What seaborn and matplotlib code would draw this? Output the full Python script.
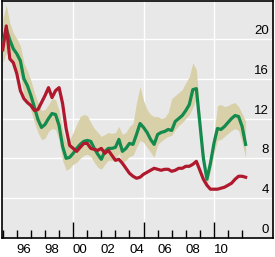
import matplotlib
matplotlib.use('Agg')
import matplotlib.pyplot as plt
import matplotlib.transforms as mtransforms
import numpy as np
import pandas as pd
import seaborn as sns

# quarterly data, 1995Q1 .. 2012Q2
quarters = np.arange(1995.0, 2012.26, 0.25)

red = [18.9, 21.3, 18.0, 17.6,
       16.5, 14.8, 14.0, 13.6,
       13.3, 12.8, 12.9, 13.6,
       14.3, 15.1, 14.1, 14.8,
       15.1, 13.5, 11.0, 9.3,
       9.0, 8.7, 9.1, 9.5,
       9.5, 9.0, 8.9, 8.8,
       9.0, 8.5, 8.8, 8.3,
       7.8, 7.9, 7.5, 7.0,
       6.5, 6.2, 6.0, 6.1,
       6.4, 6.6, 6.8, 7.0,
       6.9, 6.8, 6.9, 6.9,
       6.7, 6.8, 7.0, 7.0,
       7.2, 7.2, 7.4, 7.7,
       6.8, 5.9, 5.3, 4.9,
       4.9, 4.9, 5.0, 5.1,
       5.3, 5.5, 5.9, 6.2,
       6.2, 6.1]

green = [19.5, 21.0, 19.9, 19.0,
         18.5, 17.8, 16.0, 15.3,
         14.3, 13.1, 11.9, 11.1,
         11.4, 12.0, 12.5, 12.4,
         11.3, 9.2, 8.0, 8.1,
         8.5, 9.0, 9.4, 9.7,
         9.8, 9.7, 9.0, 8.4,
         7.9, 8.7, 9.0, 9.0,
         9.1, 9.9, 8.7, 9.0,
         9.5, 9.4, 10.4, 11.5,
         11.1, 10.6, 9.9, 9.4,
         10.4, 10.6, 10.7, 10.9,
         10.8, 11.7, 12.0, 12.3,
         12.8, 13.4, 14.9, 15.0,
         11.5, 8.0, 5.9, 7.5,
         9.5, 11.0, 10.9, 11.2,
         11.6, 12.0, 12.3, 12.2,
         11.2, 9.4]

band_hi = [22.0, 23.4, 21.6, 20.6,
           20.0, 19.3, 17.6, 16.8,
           15.8, 14.6, 13.6, 12.8,
           12.9, 13.4, 14.0, 13.9,
           12.8, 10.8, 9.6, 9.9,
           10.6, 11.4, 12.2, 12.4,
           12.3, 11.6, 11.0, 10.6,
           10.2, 10.4, 10.6, 10.5,
           10.6, 11.2, 10.4, 10.6,
           11.2, 11.5, 13.6, 15.2,
           13.8, 12.9, 12.4, 12.2,
           12.2, 12.0, 12.1, 12.6,
           14.0, 14.3, 14.6, 14.9,
           15.6, 16.2, 17.6, 16.9,
           12.4, 8.8, 6.5, 8.3,
           10.5, 13.3, 13.4, 13.2,
           13.3, 13.5, 13.6, 13.2,
           12.5, 11.7]

band_lo = [17.6, 18.6, 18.2, 17.4,
           16.8, 16.2, 14.4, 13.8,
           12.8, 11.6, 10.6, 9.9,
           10.0, 10.7, 11.0, 10.9,
           9.8, 7.8, 6.8, 7.0,
           7.4, 7.6, 8.0, 8.3,
           8.4, 8.2, 7.6, 7.1,
           6.9, 7.4, 7.8, 7.8,
           7.9, 8.5, 7.6, 7.8,
           8.2, 8.3, 9.1, 9.8,
           9.6, 9.1, 8.6, 8.1,
           9.4, 9.7, 10.0, 10.2,
           10.3, 10.9, 11.3, 11.6,
           12.0, 12.4, 13.1, 14.0,
           10.5, 7.2, 5.3, 6.7,
           8.5, 9.8, 9.9, 10.2,
           10.5, 10.8, 11.0, 10.8,
           9.6, 8.1]

year_labels = ['96', '98', '00', '02', '04', '06', '08', '10']
label_years = [1996, 1998, 2000, 2002, 2004, 2006, 2008, 2010]
y_ticks = [0, 4, 8, 12, 16, 20]

df = pd.DataFrame({'t': quarters, 'red': red, 'green': green,
                   'lo': band_lo, 'hi': band_hi})

plt.rcParams['font.family'] = ['Liberation Sans', 'DejaVu Sans']

fig = plt.figure(figsize=(2.75, 2.57), dpi=100)
ax = fig.add_axes([0.008, 0.074, 0.985, 0.922])
ax.set_facecolor('#e8e8e8')

ax.fill_between(df['t'], df['lo'], df['hi'], color='#d8d0a8', lw=0, zorder=2)
sns.lineplot(data=df, x='t', y='green', color='#138a4e', lw=2.3, ax=ax, zorder=3)
sns.lineplot(data=df, x='t', y='red', color='#b0182d', lw=2.3, ax=ax, zorder=4)

ax.set_xlim(1994.96, 2014.2)
ax.set_ylim(0, 23.8)

ax.set_yticks(y_ticks)
ax.tick_params(axis='y', length=0, labelleft=False)
ax.set_xticks([2000, 2005, 2010])
ax.set_xticks(range(1995, 2013), minor=True)
ax.tick_params(axis='x', which='major', direction='in', length=11.5, width=1,
               labelbottom=False)
ax.tick_params(axis='x', which='minor', direction='in', length=6, width=1)
ax.grid(True, which='major', color='white', lw=1, zorder=1)
ax.set_axisbelow(True)
ax.set_xlabel('')
ax.set_ylabel('')

for s in ax.spines.values():
    s.set_color('black')
    s.set_linewidth(1.2)

# y labels sit inside the plot, just above their gridlines
off = mtransforms.offset_copy(ax.get_yaxis_transform(), fig=fig, x=-4, y=2, units='dots')
for v in y_ticks:
    ax.text(1.0, v, str(v), transform=off, ha='right', va='bottom', fontsize=9.5)

offx = mtransforms.offset_copy(ax.get_xaxis_transform(), fig=fig, x=0, y=-6, units='dots')
for yr, lab in zip(label_years, year_labels):
    ax.text(yr + 0.5, 0, lab, transform=offx, ha='center', va='top', fontsize=9.5)

fig.savefig('out.png', dpi=100, facecolor='white')
